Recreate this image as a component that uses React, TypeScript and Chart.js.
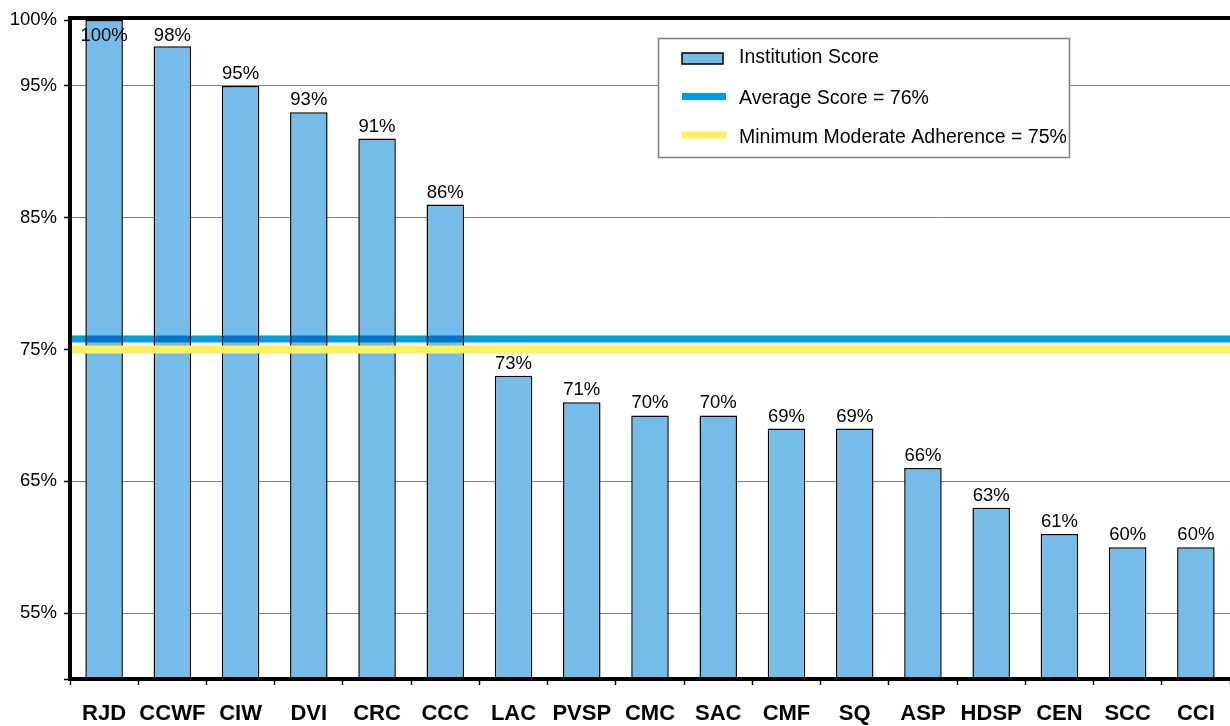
import React, { useEffect, useRef } from "react";
import { Chart, registerables } from "chart.js";

Chart.register(...registerables);

const CATEGORIES = ["RJD", "CCWF", "CIW", "DVI", "CRC", "CCC", "LAC", "PVSP", "CMC", "SAC", "CMF", "SQ", "ASP", "HDSP", "CEN", "SCC", "CCI"];
const SCORES = [100, 98, 95, 93, 91, 86, 73, 71, 70, 70, 69, 69, 66, 63, 61, 60, 60];
const Y_TICKS = [50, 55, 65, 75, 85, 95, 100];
const AVERAGE_SCORE = 75.8;
const MINIMUM_ADHERENCE = 75;
const LEGEND_LABELS = ["Institution Score", "Average Score = 76%", "Minimum Moderate Adherence = 75%"];

const FONT = '"Liberation Sans", Arial, sans-serif';
const BAR_COLOR = "#75BDE8";
const AVG_COLOR = "#009DDC";
const MIN_COLOR = "#FFF15E";

const overlayPlugin = {
  id: "overlay",
  afterDatasetsDraw(chart: any) {
    const { ctx, chartArea, scales } = chart;
    const { left, right, top } = chartArea;
    const y = scales.y;
    ctx.save();
    // average line (multiplied over bars)
    const ya = y.getPixelForValue(AVERAGE_SCORE);
    ctx.globalCompositeOperation = "multiply";
    ctx.fillStyle = AVG_COLOR;
    ctx.fillRect(left + 2, ya - 3.5, right - left - 2, 7);
    ctx.globalCompositeOperation = "source-over";
    // minimum adherence line
    const ym = y.getPixelForValue(MINIMUM_ADHERENCE);
    ctx.fillStyle = MIN_COLOR;
    ctx.fillRect(left + 2, ym - 4, right - left - 2, 8);
    // top border
    ctx.fillStyle = "#000";
    ctx.fillRect(left - 2, top - 4, right - left + 2, 4);
    // data labels
    const meta = chart.getDatasetMeta(0);
    ctx.font = `18.5px ${FONT}`;
    ctx.textAlign = "center";
    ctx.textBaseline = "alphabetic";
    ctx.fillStyle = "#000";
    meta.data.forEach((bar: any, i: number) => {
      const by = Math.max(bar.y - 7, top + 21);
      ctx.fillText(`${SCORES[i]}%`, bar.x, by);
    });
    // legend
    const lx = 658, ly = 38, lw = 411, lh = 119;
    ctx.fillStyle = "#fff";
    ctx.fillRect(lx, ly, lw, lh);
    ctx.strokeStyle = "#808080";
    ctx.lineWidth = 1.5;
    ctx.strokeRect(lx + 0.5, ly + 0.5, lw, lh);
    // swatches
    ctx.fillStyle = BAR_COLOR;
    ctx.fillRect(682, 53, 41, 11);
    ctx.strokeStyle = "#000";
    ctx.lineWidth = 1.5;
    ctx.strokeRect(682, 53, 41, 11);
    ctx.fillStyle = AVG_COLOR;
    ctx.fillRect(682, 93, 44, 7);
    ctx.fillStyle = MIN_COLOR;
    ctx.fillRect(682, 131.5, 44, 7);
    ctx.fillStyle = "#000";
    ctx.font = `19.5px ${FONT}`;
    ctx.textAlign = "left";
    const baselines = [63, 103.5, 142.5];
    LEGEND_LABELS.forEach((t, i) => ctx.fillText(t, 739, baselines[i]));
    ctx.restore();
  },
};

export default function App() {
  const ref = useRef<HTMLCanvasElement | null>(null);
  useEffect(() => {
    if (!ref.current) return;
    const chart = new Chart(ref.current, {
      type: "bar",
      data: {
        labels: CATEGORIES,
        datasets: [
          {
            label: LEGEND_LABELS[0],
            data: SCORES,
            backgroundColor: BAR_COLOR,
            borderColor: "#000",
            borderWidth: 1.5,
            barPercentage: 0.55,
            categoryPercentage: 1,
          },
        ],
      },
      options: {
        responsive: false,
        animation: false,
        layout: { padding: { top: 20, right: 0, bottom: 0, left: 0 } },
        plugins: { legend: { display: false }, tooltip: { enabled: false } },
        scales: {
          x: {
            grid: { drawOnChartArea: false, drawTicks: true, tickLength: 6, tickColor: "#000", tickWidth: 1.5, offset: true },
            border: { display: true, color: "#000", width: 4, z: 1 },
            ticks: {
              color: "#000",
              font: { family: FONT, size: 22, weight: "bold", lineHeight: 1.4 },
              padding: 14,
              autoSkip: false,
              maxRotation: 0,
            },
            afterFit: (s: any) => {
              s.height = 47;
            },
          },
          y: {
            min: 50,
            max: 100,
            afterBuildTicks: (s: any) => {
              s.ticks = Y_TICKS.map((v) => ({ value: v }));
            },
            grid: {
              color: (c: any) => (c.tick && (c.tick.value === 50 || c.tick.value === 100) ? "rgba(0,0,0,0)" : "#808080"),
              lineWidth: 1,
              drawTicks: true,
              tickLength: 6,
              tickColor: "#000",
              tickWidth: 1.5,
            },
            border: { display: true, color: "#000", width: 4, z: 1 },
            ticks: {
              color: "#000",
              font: { family: FONT, size: 18.5 },
              padding: 7,
              callback: (v: any) => (v === 50 ? "" : `${v}%`),
            },
            afterFit: (s: any) => {
              s.width = 70;
            },
          },
        },
      },
      plugins: [overlayPlugin],
    });
    return () => chart.destroy();
  }, []);
  return (
    <div style={{ position: "absolute", left: 0, top: 0, width: 1230, height: 726, background: "#fff" }}>
      <canvas ref={ref} width={1230} height={726} style={{ display: "block" }} />
    </div>
  );
}
